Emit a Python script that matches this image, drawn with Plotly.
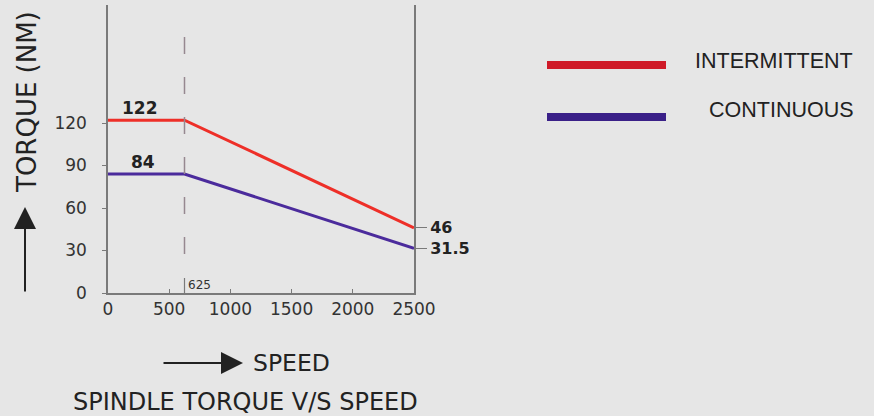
import plotly.graph_objects as go

# ---- data ----
speed = [0, 625, 2500]
intermittent = [122, 122, 46]
continuous = [84, 84, 31.5]
base_speed = 625
x_ticks = [0, 500, 1000, 1500, 2000, 2500]
y_ticks = [0, 30, 60, 90, 120]
end_ticks = [31.5, 46]
end_labels = ["31.5", "46"]
series_names = ["INTERMITTENT", "CONTINUOUS"]

W, H = 874, 416
L, R, T, B = 108, 414, 5, 293  # plot area in px
PPU = (B - 123) / 120.0        # px per torque unit
YMAX = (B - T) / PPU


def px(xp):
    return (xp - L) / (R - L)


def py(yp):
    return (B - yp) / (B - T)


def yv(yp):
    return (B - yp) / PPU


BG = "#e6e6e6"
RED = "#ee2f28"
BLUE = "#4b2b9c"
AXC = "#7a7a7a"
TXT = "#333333"
DARK = "#222222"

fig = go.Figure()
fig.add_trace(go.Scatter(x=speed, y=intermittent, mode="lines",
                         line=dict(color=RED, width=3), showlegend=False,
                         hoverinfo="skip"))
fig.add_trace(go.Scatter(x=speed, y=continuous, mode="lines",
                         line=dict(color=BLUE, width=3), showlegend=False,
                         hoverinfo="skip"))
# dummy trace to activate right axis (end values)
fig.add_trace(go.Scatter(x=[speed[-1], speed[-1]], y=end_ticks, yaxis="y2",
                         mode="markers", marker=dict(opacity=0),
                         showlegend=False, hoverinfo="skip"))

fig.update_layout(
    width=W, height=H,
    margin=dict(l=L, r=W - R, t=T, b=H - B, pad=0),
    paper_bgcolor=BG, plot_bgcolor=BG,
    font=dict(family="DejaVu Sans", color=TXT, size=17),
    xaxis=dict(range=[0, 2500], tickvals=x_ticks, showgrid=False,
               zeroline=False, showline=True, linecolor=AXC, linewidth=1.5,
               ticks="inside", ticklen=4, tickcolor=AXC,
               tickfont=dict(size=17, color=TXT)),
    yaxis=dict(range=[0, YMAX], tickvals=y_ticks, showgrid=False,
               zeroline=False, showline=True, linecolor=AXC, linewidth=1.5,
               mirror=True, ticks="outside", ticklen=4, tickcolor=AXC,
               ticklabelstandoff=12,
               tickfont=dict(size=17, color=TXT)),
    yaxis2=dict(range=[0, YMAX], overlaying="y", side="right",
                tickvals=end_ticks, ticktext=end_labels, showgrid=False,
                zeroline=False, showline=False, ticks="outside", ticklen=12,
                tickcolor=AXC, tickwidth=1.2,
                tickfont=dict(size=16, color=DARK, family="DejaVu Sans",
                              weight="bold")),
)

# dashed vertical line at base speed
fig.add_shape(type="line", xref="x", yref="y", x0=base_speed, x1=base_speed,
              y0=yv(37), y1=yv(256),
              line=dict(color="#968890", width=1.5, dash="17px,23px"))
fig.add_shape(type="line", xref="x", yref="y", x0=base_speed, x1=base_speed,
              y0=0, y1=yv(278), line=dict(color=AXC, width=1.2))
fig.add_annotation(x=base_speed, y=yv(285), xref="x", yref="y", text=str(base_speed),
                   showarrow=False, xanchor="left", yanchor="middle", xshift=1,
                   font=dict(size=12, color=TXT))

# value labels on flat segments
fig.add_annotation(x=262, y=intermittent[0], xref="x", yref="y",
                   text=str(intermittent[0]), showarrow=False, yanchor="bottom",
                   xanchor="center", font=dict(size=17, color=DARK, weight="bold"))
fig.add_annotation(x=288, y=continuous[0], xref="x", yref="y",
                   text=str(continuous[0]), showarrow=False, yanchor="bottom",
                   xanchor="center", font=dict(size=17, color=DARK, weight="bold"))

# y-axis title with arrow
fig.add_annotation(x=px(27), y=py(102), xref="paper", yref="paper",
                   text="TORQUE (NM)", textangle=-90, showarrow=False,
                   xanchor="center", yanchor="middle",
                   font=dict(size=26, color=DARK))
fig.add_annotation(x=px(25), y=py(207), xref="paper", yref="paper", text="",
                   showarrow=True, ax=0, ay=86,
                   arrowhead=2, arrowsize=2.2, arrowwidth=2, arrowcolor=DARK)

# x-axis title with arrow
fig.add_annotation(x=px(243), y=py(363), xref="paper", yref="paper", text="",
                   showarrow=True, ax=-81, ay=0, arrowhead=2, arrowsize=2.2,
                   arrowwidth=2, arrowcolor=DARK)
fig.add_annotation(x=px(251), y=py(363), xref="paper", yref="paper",
                   text="SPEED", showarrow=False, xanchor="left", yanchor="middle",
                   font=dict(size=23.5, color=DARK))
fig.add_annotation(x=px(245), y=py(402), xref="paper", yref="paper",
                   text="SPINDLE TORQUE V/S SPEED", showarrow=False,
                   xanchor="center", yanchor="middle",
                   font=dict(size=24, color=DARK))

# legend (drawn)
for name, color, ly, tx, ty in [(series_names[0], "#cf1a28", 65, 693, 61),
                                (series_names[1], "#3a2088", 117, 707, 110)]:
    fig.add_shape(type="line", xref="paper", yref="paper", x0=px(547), x1=px(666),
                  y0=py(ly), y1=py(ly), line=dict(color=color, width=8))
    fig.add_annotation(x=px(tx), y=py(ty), xref="paper", yref="paper", text=name,
                       showarrow=False, xanchor="left", yanchor="middle",
                       font=dict(family="Liberation Sans", size=21.5, color=DARK))

fig.write_html("out.html",
               config={"displayModeBar": False},
               post_script="document.body.style.margin='0px';"
                           "document.body.style.background='#e6e6e6';")
